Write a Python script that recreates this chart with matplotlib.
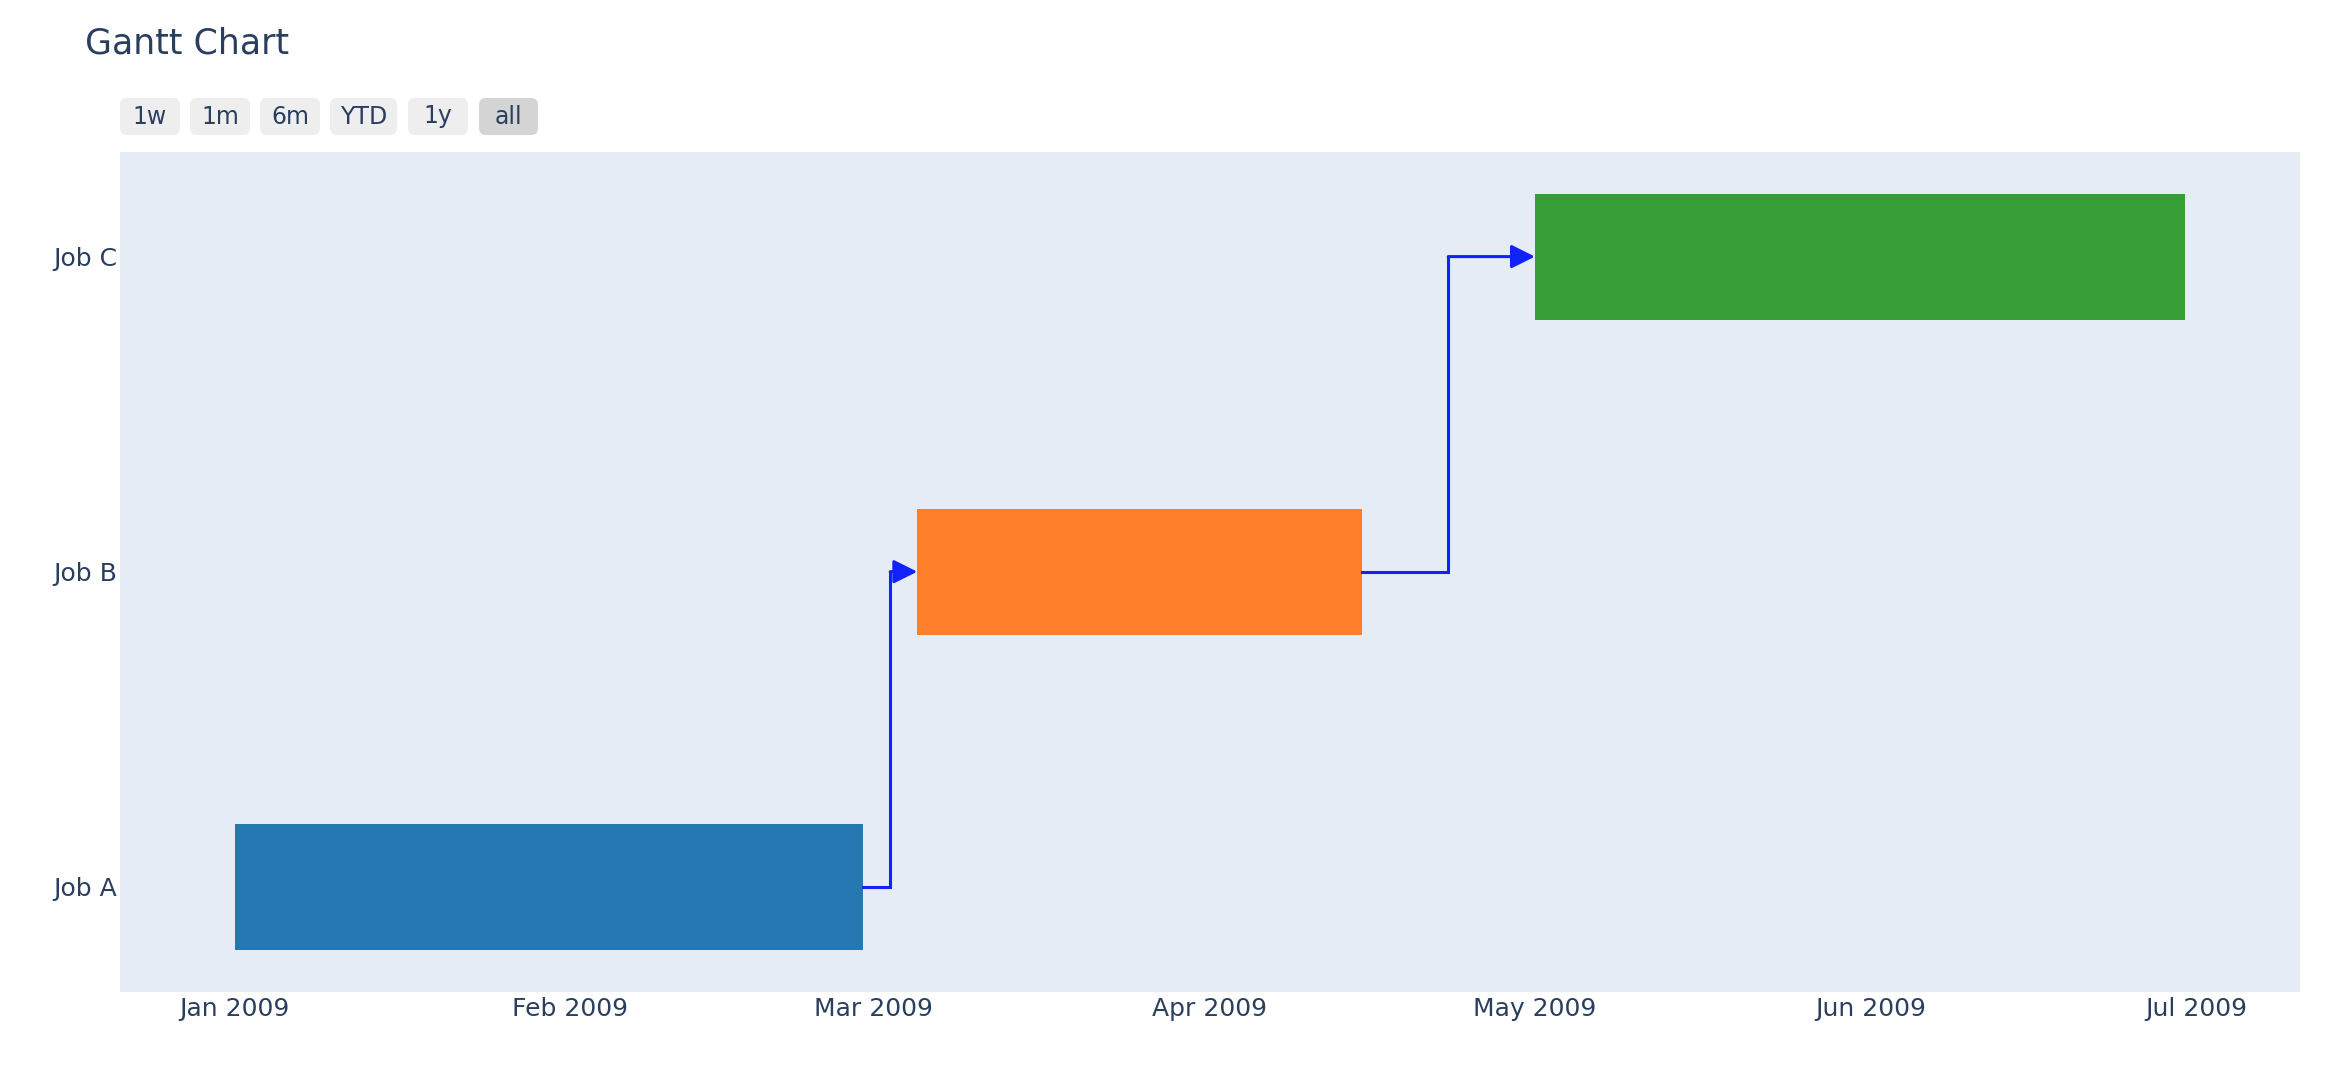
import datetime as dt
import matplotlib
matplotlib.use("Agg")
import matplotlib.pyplot as plt
import matplotlib.dates as mdates
from matplotlib.patches import FancyBboxPatch

# Data
jobs = ["Job A", "Job B", "Job C"]
starts = ["2009-01-01", "2009-03-05", "2009-05-01"]
finishes = ["2009-02-28", "2009-04-15", "2009-06-30"]
bar_colors = ["#2678b2", "#fe7f2a", "#359e35"]
# dependencies: (from job index, to job index)
links = [(0, 1), (1, 2)]
tick_months = ["2009-01-01", "2009-02-01", "2009-03-01", "2009-04-01",
               "2009-05-01", "2009-06-01", "2009-07-01"]
buttons = ["1w", "1m", "6m", "YTD", "1y", "all"]
active_button = "all"

text_color = "#2a3f5f"
W, H = 2328, 1066

plt.rcParams["font.family"] = ["DejaVu Sans"]
fig = plt.figure(figsize=(W / 100, H / 100), dpi=100)
ax = fig.add_axes([120 / W, 1 - 992 / H, (2300 - 120) / W, (992 - 152) / H])
ax.set_facecolor("#e5ecf6")

to_num = lambda s: mdates.date2num(dt.datetime.strptime(s, "%Y-%m-%d"))
s_num = [to_num(s) for s in starts]
f_num = [to_num(f) for f in finishes]

# Bars
for i, job in enumerate(jobs):
    ax.barh(i, f_num[i] - s_num[i], left=s_num[i], height=0.4,
            color=bar_colors[i], linewidth=0, zorder=2)

# Dependency connectors (elbow, half way between the two bars)
for a, b in links:
    mid = (f_num[a] + s_num[b]) / 2
    ax.plot([f_num[a], mid, mid], [a, a, b], color="#1122ff", lw=2.2,
            solid_joinstyle="miter", zorder=3)
    ax.annotate("", xy=(s_num[b], b), xytext=(mid, b),
                arrowprops=dict(arrowstyle="-|>,head_length=0.72,head_width=0.36",
                                mutation_scale=20, color="#1122ff", lw=2.2,
                                shrinkA=0, shrinkB=0),
                zorder=3)

# Axes ranges
x0 = to_num("2009-01-01")
ax.set_xlim(x0 - 10.57, x0 + 190.6)
ax.set_ylim(-0.334, 2.332)

ax.set_xticks([to_num(m) for m in tick_months])
ax.xaxis.set_major_formatter(mdates.DateFormatter("%b %Y"))
ax.set_yticks(range(len(jobs)))
ax.set_yticklabels(jobs)
ax.tick_params(axis="x", length=0, pad=3.5, labelsize=18, labelcolor=text_color)
ax.tick_params(axis="y", length=0, pad=2, labelsize=18, labelcolor=text_color)
for sp in ax.spines.values():
    sp.set_visible(False)

# Title
fig.text(85 / W, 1 - 53 / H, "Gantt Chart", fontsize=25, color=text_color,
         ha="left", va="baseline")

# Range selector buttons
btn_left = [120, 190, 260, 330, 408, 479]
btn_right = [180, 250, 320, 397, 468, 538]
btn_top, btn_bottom = 98, 135
for lbl, l, r in zip(buttons, btn_left, btn_right):
    fc = "#d4d4d4" if lbl == active_button else "#eeeeee"
    box = FancyBboxPatch((l / W, 1 - btn_bottom / H), (r - l) / W,
                         (btn_bottom - btn_top) / H,
                         boxstyle="round,pad=0,rounding_size=0.003",
                         transform=fig.transFigure, fc=fc, ec="none",
                         mutation_aspect=W / H)
    fig.patches.append(box)
    fig.text((l + r) / 2 / W, 1 - (btn_top + btn_bottom) / 2 / H, lbl,
             fontsize=17, color=text_color, ha="center", va="center")

fig.savefig("out.png", dpi=100, facecolor="white")
